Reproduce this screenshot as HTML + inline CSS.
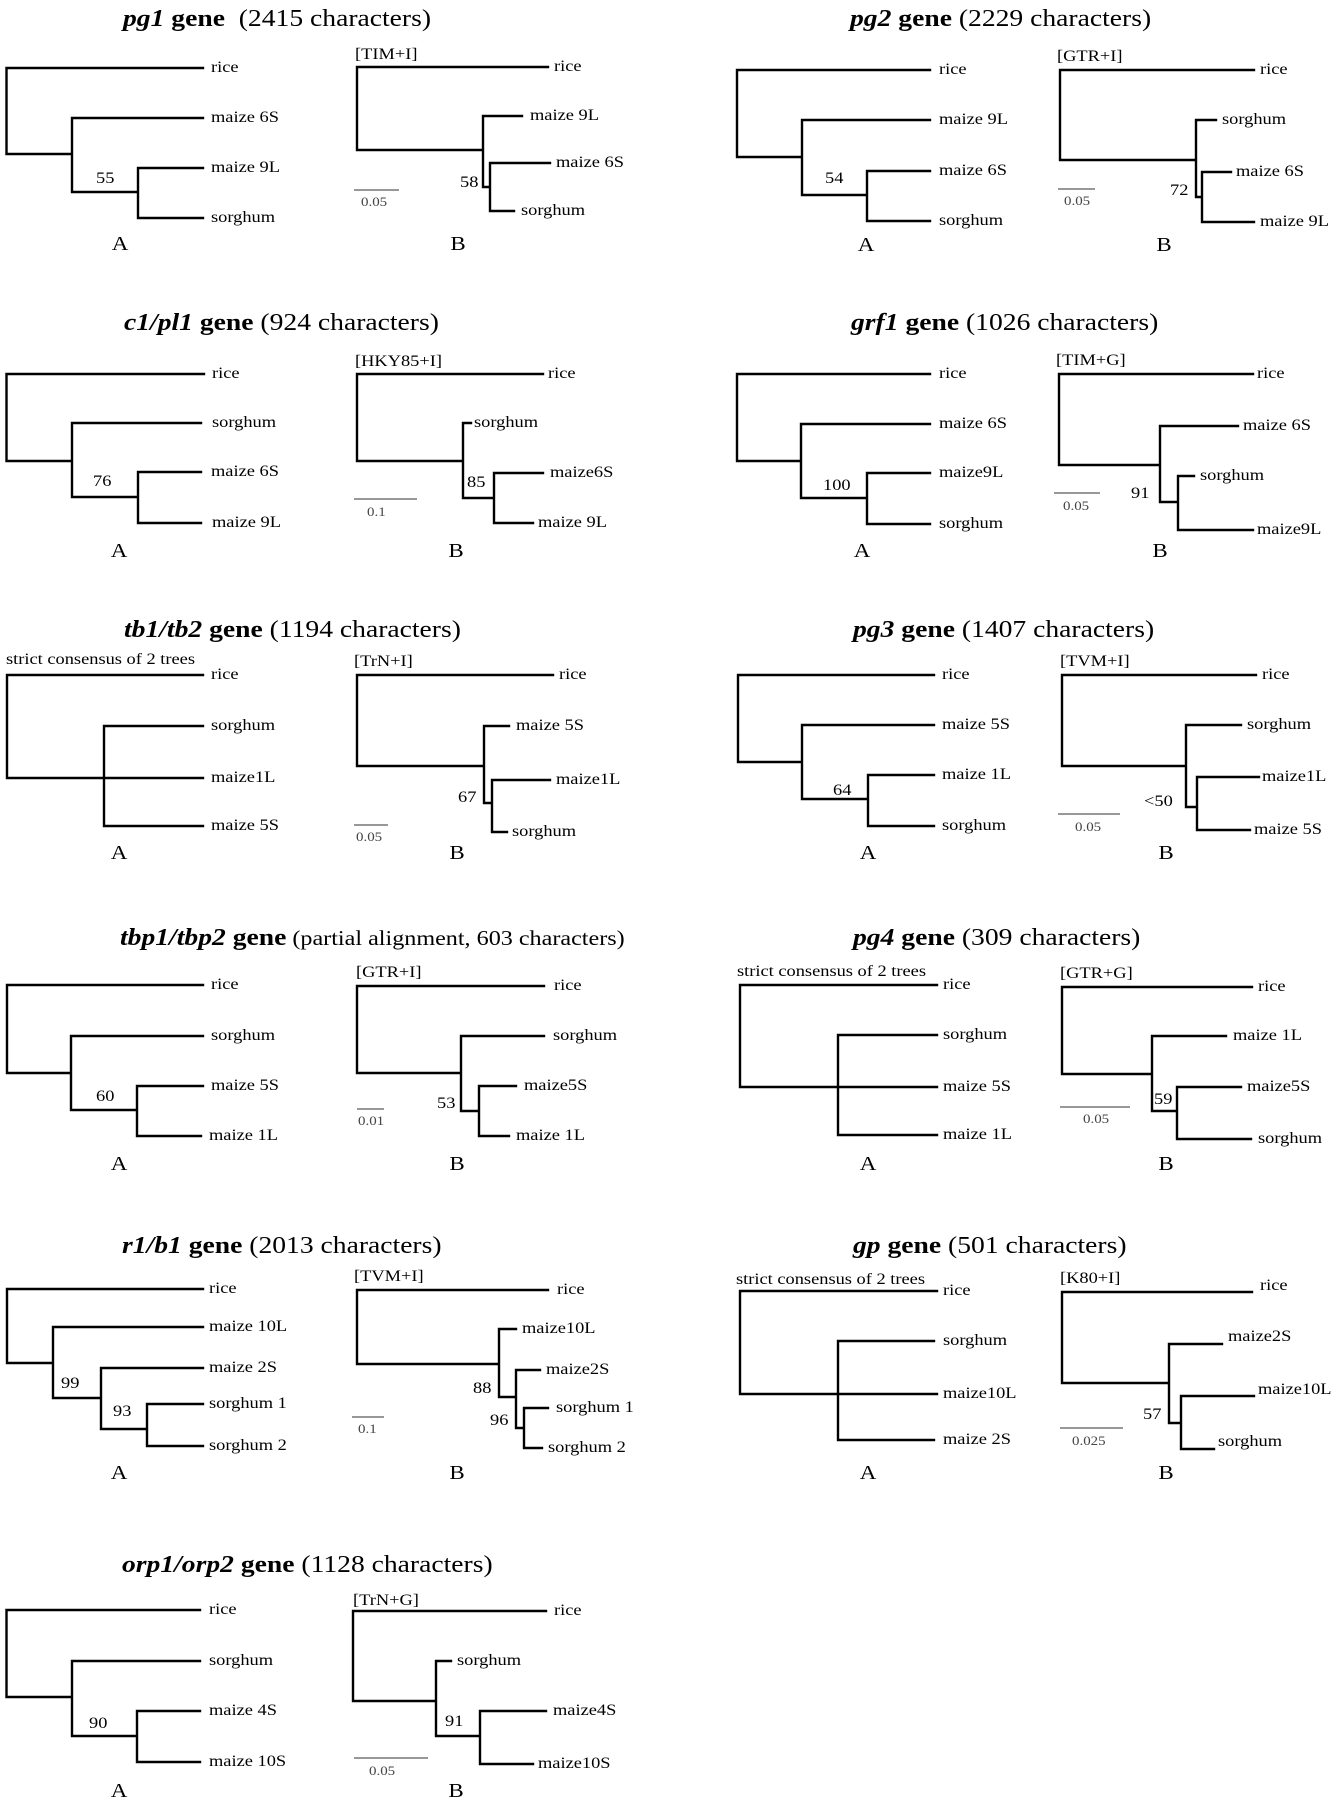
<!DOCTYPE html>
<html><head><meta charset="utf-8"><style>
html,body{margin:0;padding:0;background:#fff;}
svg{display:block;}
text{font-family:"Liberation Serif","Times New Roman",serif;fill:#000;}
.l{font-size:16px;}
.n{font-size:16px;}
.ab{font-size:20px;text-anchor:middle;}
.m{font-size:16px;}
.s{font-size:13px;fill:#444;}
.t{font-size:24px;}
.tp{font-size:21px;}
.br{fill:none;stroke:#000;stroke-width:2.4;stroke-linecap:square;stroke-linejoin:miter;}
.sb{stroke:#777;stroke-width:1.4;}
</style></head><body>
<svg width="1331" height="1800" viewBox="0 0 1331 1800" xmlns="http://www.w3.org/2000/svg">
<rect width="1331" height="1800" fill="#fff"/>

<!-- ================= pg1 ================= -->
<text class="t" transform="matrix(1.15 0 0 1 123 26)"><tspan font-weight="bold" font-style="italic">pg1</tspan><tspan font-weight="bold"> gene</tspan>&#160; (2415 characters)</text>
<path class="br" d="M203,68H6.5V154H72 M203,118H72V192H138 M203,168H138V218H203"/>
<text class="l" transform="matrix(1.15 0 0 1 211 72)">rice</text>
<text class="l" transform="matrix(1.15 0 0 1 211 122)">maize 6S</text>
<text class="l" transform="matrix(1.15 0 0 1 211 172)">maize 9L</text>
<text class="l" transform="matrix(1.15 0 0 1 211 222)">sorghum</text>
<text class="n" transform="matrix(1.15 0 0 1 96 183)">55</text>
<text class="ab" transform="matrix(1.15 0 0 1 120 250)">A</text>

<text class="m" transform="matrix(1.15 0 0 1 355 59)">[TIM+I]</text>
<path class="br" d="M548,67H357V150H483 M522,116H483V187H490 M550,163H490V211H514"/>
<text class="l" transform="matrix(1.15 0 0 1 554 71)">rice</text>
<text class="l" transform="matrix(1.15 0 0 1 530 120)">maize 9L</text>
<text class="l" transform="matrix(1.15 0 0 1 556 167)">maize 6S</text>
<text class="l" transform="matrix(1.15 0 0 1 521 215)">sorghum</text>
<text class="n" transform="matrix(1.15 0 0 1 460 187)">58</text>
<line class="sb" x1="354" y1="190" x2="399" y2="190"/>
<text class="s" transform="matrix(1.15 0 0 1 361 206)">0.05</text>
<text class="ab" transform="matrix(1.15 0 0 1 458 250)">B</text>

<!-- ================= pg2 ================= -->
<text class="t" transform="matrix(1.15 0 0 1 850 26)"><tspan font-weight="bold" font-style="italic">pg2</tspan><tspan font-weight="bold"> gene</tspan> (2229 characters)</text>
<path class="br" d="M930,70H737V157H802 M930,120H802V195H867 M930,171H867V221H930"/>
<text class="l" transform="matrix(1.15 0 0 1 939 74)">rice</text>
<text class="l" transform="matrix(1.15 0 0 1 939 124)">maize 9L</text>
<text class="l" transform="matrix(1.15 0 0 1 939 175)">maize 6S</text>
<text class="l" transform="matrix(1.15 0 0 1 939 225)">sorghum</text>
<text class="n" transform="matrix(1.15 0 0 1 825 183)">54</text>
<text class="ab" transform="matrix(1.15 0 0 1 866 251)">A</text>

<text class="m" transform="matrix(1.15 0 0 1 1057 61)">[GTR+I]</text>
<path class="br" d="M1254,70H1060V160H1196 M1216,120H1196V197H1202 M1231,172H1202V222H1254"/>
<text class="l" transform="matrix(1.15 0 0 1 1260 74)">rice</text>
<text class="l" transform="matrix(1.15 0 0 1 1222 124)">sorghum</text>
<text class="l" transform="matrix(1.15 0 0 1 1236 176)">maize 6S</text>
<text class="l" transform="matrix(1.15 0 0 1 1260 226)">maize 9L</text>
<text class="n" transform="matrix(1.15 0 0 1 1170 195)">72</text>
<line class="sb" x1="1058" y1="189" x2="1095" y2="189"/>
<text class="s" transform="matrix(1.15 0 0 1 1064 205)">0.05</text>
<text class="ab" transform="matrix(1.15 0 0 1 1164 251)">B</text>

<!-- ================= c1/pl1 ================= -->
<text class="t" transform="matrix(1.15 0 0 1 124 330)"><tspan font-weight="bold" font-style="italic">c1/pl1</tspan><tspan font-weight="bold"> gene</tspan> (924 characters)</text>
<path class="br" d="M204,374H6.5V461H72 M201,423H72V497H138 M201,472H138V523H201"/>
<text class="l" transform="matrix(1.15 0 0 1 212 378)">rice</text>
<text class="l" transform="matrix(1.15 0 0 1 212 427)">sorghum</text>
<text class="l" transform="matrix(1.15 0 0 1 211 476)">maize 6S</text>
<text class="l" transform="matrix(1.15 0 0 1 212 527)">maize 9L</text>
<text class="n" transform="matrix(1.15 0 0 1 93 486)">76</text>
<text class="ab" transform="matrix(1.15 0 0 1 119 557)">A</text>

<text class="m" transform="matrix(1.15 0 0 1 355 366)">[HKY85+I]</text>
<path class="br" d="M543,374H357V461H463 M471,423H463V498H494 M543,473H494V523H533"/>
<text class="l" transform="matrix(1.15 0 0 1 548 378)">rice</text>
<text class="l" transform="matrix(1.15 0 0 1 474 427)">sorghum</text>
<text class="l" transform="matrix(1.15 0 0 1 550 477)">maize6S</text>
<text class="l" transform="matrix(1.15 0 0 1 538 527)">maize 9L</text>
<text class="n" transform="matrix(1.15 0 0 1 467 487)">85</text>
<line class="sb" x1="354" y1="499" x2="417" y2="499"/>
<text class="s" transform="matrix(1.15 0 0 1 367 516)">0.1</text>
<text class="ab" transform="matrix(1.15 0 0 1 456 557)">B</text>

<!-- ================= grf1 ================= -->
<text class="t" transform="matrix(1.15 0 0 1 851 330)"><tspan font-weight="bold" font-style="italic">grf1</tspan><tspan font-weight="bold"> gene</tspan> (1026 characters)</text>
<path class="br" d="M930,374H737V461H801 M930,424H801V498H867 M930,473H867V524H930"/>
<text class="l" transform="matrix(1.15 0 0 1 939 378)">rice</text>
<text class="l" transform="matrix(1.15 0 0 1 939 428)">maize 6S</text>
<text class="l" transform="matrix(1.15 0 0 1 939 477)">maize9L</text>
<text class="l" transform="matrix(1.15 0 0 1 939 528)">sorghum</text>
<text class="n" transform="matrix(1.15 0 0 1 823 490)">100</text>
<text class="ab" transform="matrix(1.15 0 0 1 862 557)">A</text>

<text class="m" transform="matrix(1.15 0 0 1 1056 365)">[TIM+G]</text>
<path class="br" d="M1253,374H1059V465H1160 M1238,426H1160V502H1178 M1194,476H1178V530H1253"/>
<text class="l" transform="matrix(1.15 0 0 1 1257 378)">rice</text>
<text class="l" transform="matrix(1.15 0 0 1 1243 430)">maize 6S</text>
<text class="l" transform="matrix(1.15 0 0 1 1200 480)">sorghum</text>
<text class="l" transform="matrix(1.15 0 0 1 1257 534)">maize9L</text>
<text class="n" transform="matrix(1.15 0 0 1 1131 498)">91</text>
<line class="sb" x1="1054" y1="493" x2="1100" y2="493"/>
<text class="s" transform="matrix(1.15 0 0 1 1063 510)">0.05</text>
<text class="ab" transform="matrix(1.15 0 0 1 1160 557)">B</text>

<!-- ================= tb1/tb2 ================= -->
<text class="t" transform="matrix(1.15 0 0 1 124 637)"><tspan font-weight="bold" font-style="italic">tb1/tb2</tspan><tspan font-weight="bold"> gene</tspan> (1194 characters)</text>
<text class="m" transform="matrix(1.15 0 0 1 6 664)">strict consensus of 2 trees</text>
<path class="br" d="M203,675H7V778H203 M203,726H104V826H203"/>
<text class="l" transform="matrix(1.15 0 0 1 211 679)">rice</text>
<text class="l" transform="matrix(1.15 0 0 1 211 730)">sorghum</text>
<text class="l" transform="matrix(1.15 0 0 1 211 782)">maize1L</text>
<text class="l" transform="matrix(1.15 0 0 1 211 830)">maize 5S</text>
<text class="ab" transform="matrix(1.15 0 0 1 119 859)">A</text>

<text class="m" transform="matrix(1.15 0 0 1 354 666)">[TrN+I]</text>
<path class="br" d="M553,675H357V766H484 M509,726H484V803H492 M550,780H492V832H507"/>
<text class="l" transform="matrix(1.15 0 0 1 559 679)">rice</text>
<text class="l" transform="matrix(1.15 0 0 1 516 730)">maize 5S</text>
<text class="l" transform="matrix(1.15 0 0 1 556 784)">maize1L</text>
<text class="l" transform="matrix(1.15 0 0 1 512 836)">sorghum</text>
<text class="n" transform="matrix(1.15 0 0 1 458 802)">67</text>
<line class="sb" x1="354" y1="825" x2="388" y2="825"/>
<text class="s" transform="matrix(1.15 0 0 1 356 841)">0.05</text>
<text class="ab" transform="matrix(1.15 0 0 1 457 859)">B</text>

<!-- ================= pg3 ================= -->
<text class="t" transform="matrix(1.15 0 0 1 853 637)"><tspan font-weight="bold" font-style="italic">pg3</tspan><tspan font-weight="bold"> gene</tspan> (1407 characters)</text>
<path class="br" d="M934,675H738V762H802 M934,725H802V799H868 M934,775H868V826H934"/>
<text class="l" transform="matrix(1.15 0 0 1 942 679)">rice</text>
<text class="l" transform="matrix(1.15 0 0 1 942 729)">maize 5S</text>
<text class="l" transform="matrix(1.15 0 0 1 942 779)">maize 1L</text>
<text class="l" transform="matrix(1.15 0 0 1 942 830)">sorghum</text>
<text class="n" transform="matrix(1.15 0 0 1 833 795)">64</text>
<text class="ab" transform="matrix(1.15 0 0 1 868 859)">A</text>

<text class="m" transform="matrix(1.15 0 0 1 1060 666)">[TVM+I]</text>
<path class="br" d="M1256,675H1062V766H1186 M1241,725H1186V807H1197 M1259,777H1197V830H1250"/>
<text class="l" transform="matrix(1.15 0 0 1 1262 679)">rice</text>
<text class="l" transform="matrix(1.15 0 0 1 1247 729)">sorghum</text>
<text class="l" transform="matrix(1.15 0 0 1 1262 781)">maize1L</text>
<text class="l" transform="matrix(1.15 0 0 1 1254 834)">maize 5S</text>
<text class="n" transform="matrix(1.15 0 0 1 1144 806)">&lt;50</text>
<line class="sb" x1="1058" y1="814" x2="1120" y2="814"/>
<text class="s" transform="matrix(1.15 0 0 1 1075 831)">0.05</text>
<text class="ab" transform="matrix(1.15 0 0 1 1166 859)">B</text>

<!-- ================= tbp1/tbp2 ================= -->
<text class="t" transform="matrix(1.15 0 0 1 120 945)"><tspan font-weight="bold" font-style="italic">tbp1/tbp2</tspan><tspan font-weight="bold"> gene</tspan><tspan class="tp"> (partial alignment, 603 characters)</tspan></text>
<path class="br" d="M203,985H7V1073H71 M203,1036H71V1110H137 M203,1086H137V1136H201"/>
<text class="l" transform="matrix(1.15 0 0 1 211 989)">rice</text>
<text class="l" transform="matrix(1.15 0 0 1 211 1040)">sorghum</text>
<text class="l" transform="matrix(1.15 0 0 1 211 1090)">maize 5S</text>
<text class="l" transform="matrix(1.15 0 0 1 209 1140)">maize 1L</text>
<text class="n" transform="matrix(1.15 0 0 1 96 1101)">60</text>
<text class="ab" transform="matrix(1.15 0 0 1 119 1170)">A</text>

<text class="m" transform="matrix(1.15 0 0 1 356 977)">[GTR+I]</text>
<path class="br" d="M544,986H357V1073H461 M544,1036H461V1111H479 M516,1086H479V1136H509"/>
<text class="l" transform="matrix(1.15 0 0 1 554 990)">rice</text>
<text class="l" transform="matrix(1.15 0 0 1 553 1040)">sorghum</text>
<text class="l" transform="matrix(1.15 0 0 1 524 1090)">maize5S</text>
<text class="l" transform="matrix(1.15 0 0 1 516 1140)">maize 1L</text>
<text class="n" transform="matrix(1.15 0 0 1 437 1108)">53</text>
<line class="sb" x1="357" y1="1109" x2="384" y2="1109"/>
<text class="s" transform="matrix(1.15 0 0 1 358 1125)">0.01</text>
<text class="ab" transform="matrix(1.15 0 0 1 457 1170)">B</text>

<!-- ================= pg4 ================= -->
<text class="t" transform="matrix(1.15 0 0 1 853 945)"><tspan font-weight="bold" font-style="italic">pg4</tspan><tspan font-weight="bold"> gene</tspan> (309 characters)</text>
<text class="m" transform="matrix(1.15 0 0 1 737 976)">strict consensus of 2 trees</text>
<path class="br" d="M937,985H740V1087H937 M937,1035H838V1135H937"/>
<text class="l" transform="matrix(1.15 0 0 1 943 989)">rice</text>
<text class="l" transform="matrix(1.15 0 0 1 943 1039)">sorghum</text>
<text class="l" transform="matrix(1.15 0 0 1 943 1091)">maize 5S</text>
<text class="l" transform="matrix(1.15 0 0 1 943 1139)">maize 1L</text>
<text class="ab" transform="matrix(1.15 0 0 1 868 1170)">A</text>

<text class="m" transform="matrix(1.15 0 0 1 1060 978)">[GTR+G]</text>
<path class="br" d="M1252,987H1062V1074H1152 M1226,1036H1152V1111H1177 M1241,1087H1177V1139H1251"/>
<text class="l" transform="matrix(1.15 0 0 1 1258 991)">rice</text>
<text class="l" transform="matrix(1.15 0 0 1 1233 1040)">maize 1L</text>
<text class="l" transform="matrix(1.15 0 0 1 1247 1091)">maize5S</text>
<text class="l" transform="matrix(1.15 0 0 1 1258 1143)">sorghum</text>
<text class="n" transform="matrix(1.15 0 0 1 1154 1104)">59</text>
<line class="sb" x1="1060" y1="1107" x2="1130" y2="1107"/>
<text class="s" transform="matrix(1.15 0 0 1 1083 1123)">0.05</text>
<text class="ab" transform="matrix(1.15 0 0 1 1166 1170)">B</text>

<!-- ================= r1/b1 ================= -->
<text class="t" transform="matrix(1.15 0 0 1 122 1253)"><tspan font-weight="bold" font-style="italic">r1/b1</tspan><tspan font-weight="bold"> gene</tspan> (2013 characters)</text>
<path class="br" d="M203,1289H7V1363H53 M203,1327H53V1398H101 M203,1368H101V1429H147 M203,1404H147V1446H203"/>
<text class="l" transform="matrix(1.15 0 0 1 209 1293)">rice</text>
<text class="l" transform="matrix(1.15 0 0 1 209 1331)">maize 10L</text>
<text class="l" transform="matrix(1.15 0 0 1 209 1372)">maize 2S</text>
<text class="l" transform="matrix(1.15 0 0 1 209 1408)">sorghum 1</text>
<text class="l" transform="matrix(1.15 0 0 1 209 1450)">sorghum 2</text>
<text class="n" transform="matrix(1.15 0 0 1 61 1388)">99</text>
<text class="n" transform="matrix(1.15 0 0 1 113 1416)">93</text>
<text class="ab" transform="matrix(1.15 0 0 1 119 1479)">A</text>

<text class="m" transform="matrix(1.15 0 0 1 354 1281)">[TVM+I]</text>
<path class="br" d="M548,1290H357V1364H499 M516,1329H499V1397H516 M540,1370H516V1428H524 M548,1408H524V1448H542"/>
<text class="l" transform="matrix(1.15 0 0 1 557 1294)">rice</text>
<text class="l" transform="matrix(1.15 0 0 1 522 1333)">maize10L</text>
<text class="l" transform="matrix(1.15 0 0 1 546 1374)">maize2S</text>
<text class="l" transform="matrix(1.15 0 0 1 556 1412)">sorghum 1</text>
<text class="l" transform="matrix(1.15 0 0 1 548 1452)">sorghum 2</text>
<text class="n" transform="matrix(1.15 0 0 1 473 1393)">88</text>
<text class="n" transform="matrix(1.15 0 0 1 490 1425)">96</text>
<line class="sb" x1="352" y1="1417" x2="384" y2="1417"/>
<text class="s" transform="matrix(1.15 0 0 1 358 1433)">0.1</text>
<text class="ab" transform="matrix(1.15 0 0 1 457 1479)">B</text>

<!-- ================= gp ================= -->
<text class="t" transform="matrix(1.15 0 0 1 853 1253)"><tspan font-weight="bold" font-style="italic">gp</tspan><tspan font-weight="bold"> gene</tspan> (501 characters)</text>
<text class="m" transform="matrix(1.15 0 0 1 736 1284)">strict consensus of 2 trees</text>
<path class="br" d="M937,1291H740V1394H937 M934,1341H838V1440H934"/>
<text class="l" transform="matrix(1.15 0 0 1 943 1295)">rice</text>
<text class="l" transform="matrix(1.15 0 0 1 943 1345)">sorghum</text>
<text class="l" transform="matrix(1.15 0 0 1 943 1398)">maize10L</text>
<text class="l" transform="matrix(1.15 0 0 1 943 1444)">maize 2S</text>
<text class="ab" transform="matrix(1.15 0 0 1 868 1479)">A</text>

<text class="m" transform="matrix(1.15 0 0 1 1060 1283)">[K80+I]</text>
<path class="br" d="M1252,1292H1062V1383H1169 M1222,1344H1169V1423H1181 M1254,1396H1181V1449H1214"/>
<text class="l" transform="matrix(1.15 0 0 1 1260 1290)">rice</text>
<text class="l" transform="matrix(1.15 0 0 1 1228 1341)">maize2S</text>
<text class="l" transform="matrix(1.15 0 0 1 1258 1394)">maize10L</text>
<text class="l" transform="matrix(1.15 0 0 1 1218 1446)">sorghum</text>
<text class="n" transform="matrix(1.15 0 0 1 1143 1419)">57</text>
<line class="sb" x1="1060" y1="1428" x2="1123" y2="1428"/>
<text class="s" transform="matrix(1.15 0 0 1 1072 1445)">0.025</text>
<text class="ab" transform="matrix(1.15 0 0 1 1166 1479)">B</text>

<!-- ================= orp1/orp2 ================= -->
<text class="t" transform="matrix(1.15 0 0 1 122 1572)"><tspan font-weight="bold" font-style="italic">orp1/orp2</tspan><tspan font-weight="bold"> gene</tspan> (1128 characters)</text>
<path class="br" d="M200,1610H6.5V1697H72 M200,1661H72V1736H137 M200,1711H137V1762H200"/>
<text class="l" transform="matrix(1.15 0 0 1 209 1614)">rice</text>
<text class="l" transform="matrix(1.15 0 0 1 209 1665)">sorghum</text>
<text class="l" transform="matrix(1.15 0 0 1 209 1715)">maize 4S</text>
<text class="l" transform="matrix(1.15 0 0 1 209 1766)">maize 10S</text>
<text class="n" transform="matrix(1.15 0 0 1 89 1728)">90</text>
<text class="ab" transform="matrix(1.15 0 0 1 119 1797)">A</text>

<text class="m" transform="matrix(1.15 0 0 1 353 1605)">[TrN+G]</text>
<path class="br" d="M546,1611H353V1701H436 M451,1661H436V1736H480 M546,1711H480V1764H533"/>
<text class="l" transform="matrix(1.15 0 0 1 554 1615)">rice</text>
<text class="l" transform="matrix(1.15 0 0 1 457 1665)">sorghum</text>
<text class="l" transform="matrix(1.15 0 0 1 553 1715)">maize4S</text>
<text class="l" transform="matrix(1.15 0 0 1 538 1768)">maize10S</text>
<text class="n" transform="matrix(1.15 0 0 1 445 1726)">91</text>
<line class="sb" x1="354" y1="1758" x2="428" y2="1758"/>
<text class="s" transform="matrix(1.15 0 0 1 369 1775)">0.05</text>
<text class="ab" transform="matrix(1.15 0 0 1 456 1797)">B</text>

</svg>
</body></html>
